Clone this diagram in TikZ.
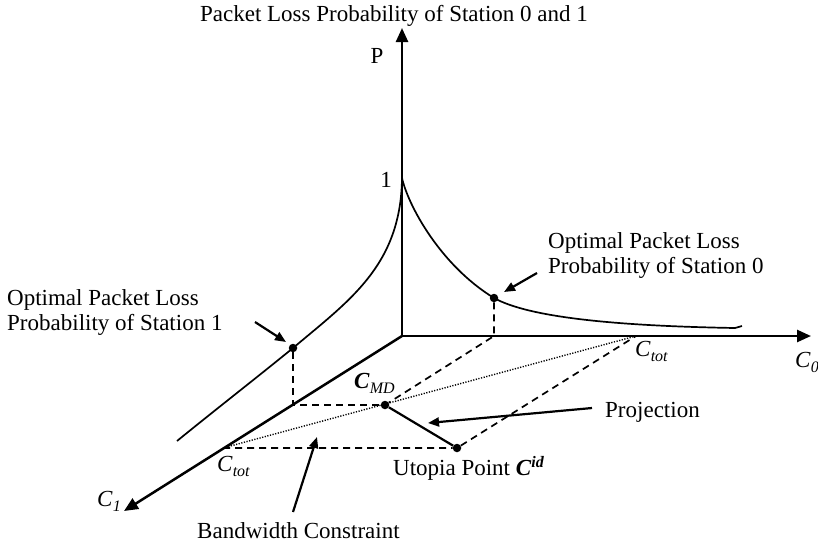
\documentclass[tikz,border=0pt]{standalone}
\usepackage{fontspec}
\setmainfont{Liberation Serif}
\usetikzlibrary{arrows.meta}
% italic sub- and superscripts set a little larger and lower than \textsubscript
\newcommand\lowidx[1]{\raisebox{-5pt}{\fontsize{16}{16}\selectfont\textit{#1}}}
\newcommand\highidx[1]{\raisebox{8pt}{\fontsize{16}{16}\selectfont\textbf{\textit{#1}}}}
\begin{document}
\begin{tikzpicture}[x=1pt,y=-1pt,
  axis/.style={line width=2.5pt,-{Triangle[length=14pt,width=12pt]}},
  curve/.style={line width=1.7pt},
  guide/.style={line width=1.7pt,dash pattern=on 7pt off 5pt},
  constraint/.style={line width=1.4pt,dash pattern=on 1.2pt off 1.5pt},
  callout/.style={line width=2.2pt,-{Triangle[length=11pt,width=9pt]}},
  dot/.style={circle,fill=black,inner sep=0pt,minimum size=8.5pt},
  lbl/.style={inner sep=0pt,anchor=base west,font=\fontsize{23}{26}\selectfont}]
\useasboundingbox (0,0) rectangle (818,544);

% axes
\coordinate (O) at (402,336);
\coordinate (Ptip) at (402,28);
\coordinate (C0tip) at (811,336);
\coordinate (C1tip) at (124,511);
\draw[axis] (O) -- (Ptip);
\draw[axis] (O) -- (C0tip);
\draw[axis] (O) -- (C1tip);

% key points of the bandwidth plane
\coordinate (peak) at (402,178);
\coordinate (T0) at (636,336);
\coordinate (T1) at (223,448);
\coordinate (F0) at (494,336);
\coordinate (F1) at (293,405);
\node[dot] (D0) at (494,298) {};
\node[dot] (D1) at (293,348) {};
\node[dot] (MD) at (385,405) {};
\node[dot] (U) at (457,448) {};

% loss probability curves
\draw[curve] (peak) .. controls (408,205) and (440,265) .. (D0.center)
  .. controls (530,318) and (620,326) .. (735,328) -- (742,326);
\draw[curve] (peak) .. controls (401,265) and (350,300) .. (D1.center)
  .. controls (255,379) and (215,410) .. (177,441);

% projections onto the plane
\draw[guide] (D1) -- (F1) -- (MD);
\draw[guide] (D0) -- (F0) -- (MD);
\draw[guide] (T1) -- (U) -- (T0);
\draw[constraint] (T1) -- (T0);
\draw[line width=2.2pt] (MD) -- (U);

% labels
\node[lbl,anchor=base] (title) at (394,21) {Packet Loss Probability of Station 0 and 1};
\node[lbl,anchor=base] (Plab) at (377,63) {P};
\node[lbl,anchor=base] (one) at (386,187) {1};
\node[lbl] (C0lab) at (795,367) {\textit{C}\lowidx{0}};
\node[lbl] (C1lab) at (97,506) {\textit{C}\lowidx{1}};
\node[lbl] (T0lab) at (635,356) {\textit{C}\lowidx{tot}};
\node[lbl] (T1lab) at (217,471) {\textit{C}\lowidx{tot}};
\node[lbl] (MDlab) at (354,388) {\textbf{\textit{C}}\lowidx{MD}};
\node[lbl] (Ulab) at (393,475) {Utopia Point \textbf{\textit{C}}\highidx{id}};
\node[lbl] (projlab) at (605,417) {Projection};
\node[lbl] (bwlab) at (197,538) {Bandwidth Constraint};
\node[lbl] (s1laba) at (7,305) {Optimal Packet Loss};
\node[lbl] (s1labb) at (7,330) {Probability of Station 1};
\node[lbl] (s0laba) at (548,248) {Optimal Packet Loss};
\node[lbl] (s0labb) at (548,273) {Probability of Station 0};

% callout arrows
\coordinate (s1tail) at (255,322);
\coordinate (s1tip) at (286,342);
\coordinate (s0tail) at (537,273);
\coordinate (s0tip) at (504,292);
\coordinate (pjtail) at (592,408);
\coordinate (pjtip) at (428,423);
\coordinate (bwtail) at (293,512);
\coordinate (bwtip) at (317,437);
\draw[callout] (s1tail) -- (s1tip);
\draw[callout] (s0tail) -- (s0tip);
\draw[callout] (pjtail) -- (pjtip);
\draw[callout] (bwtail) -- (bwtip);
\end{tikzpicture}
\end{document}
